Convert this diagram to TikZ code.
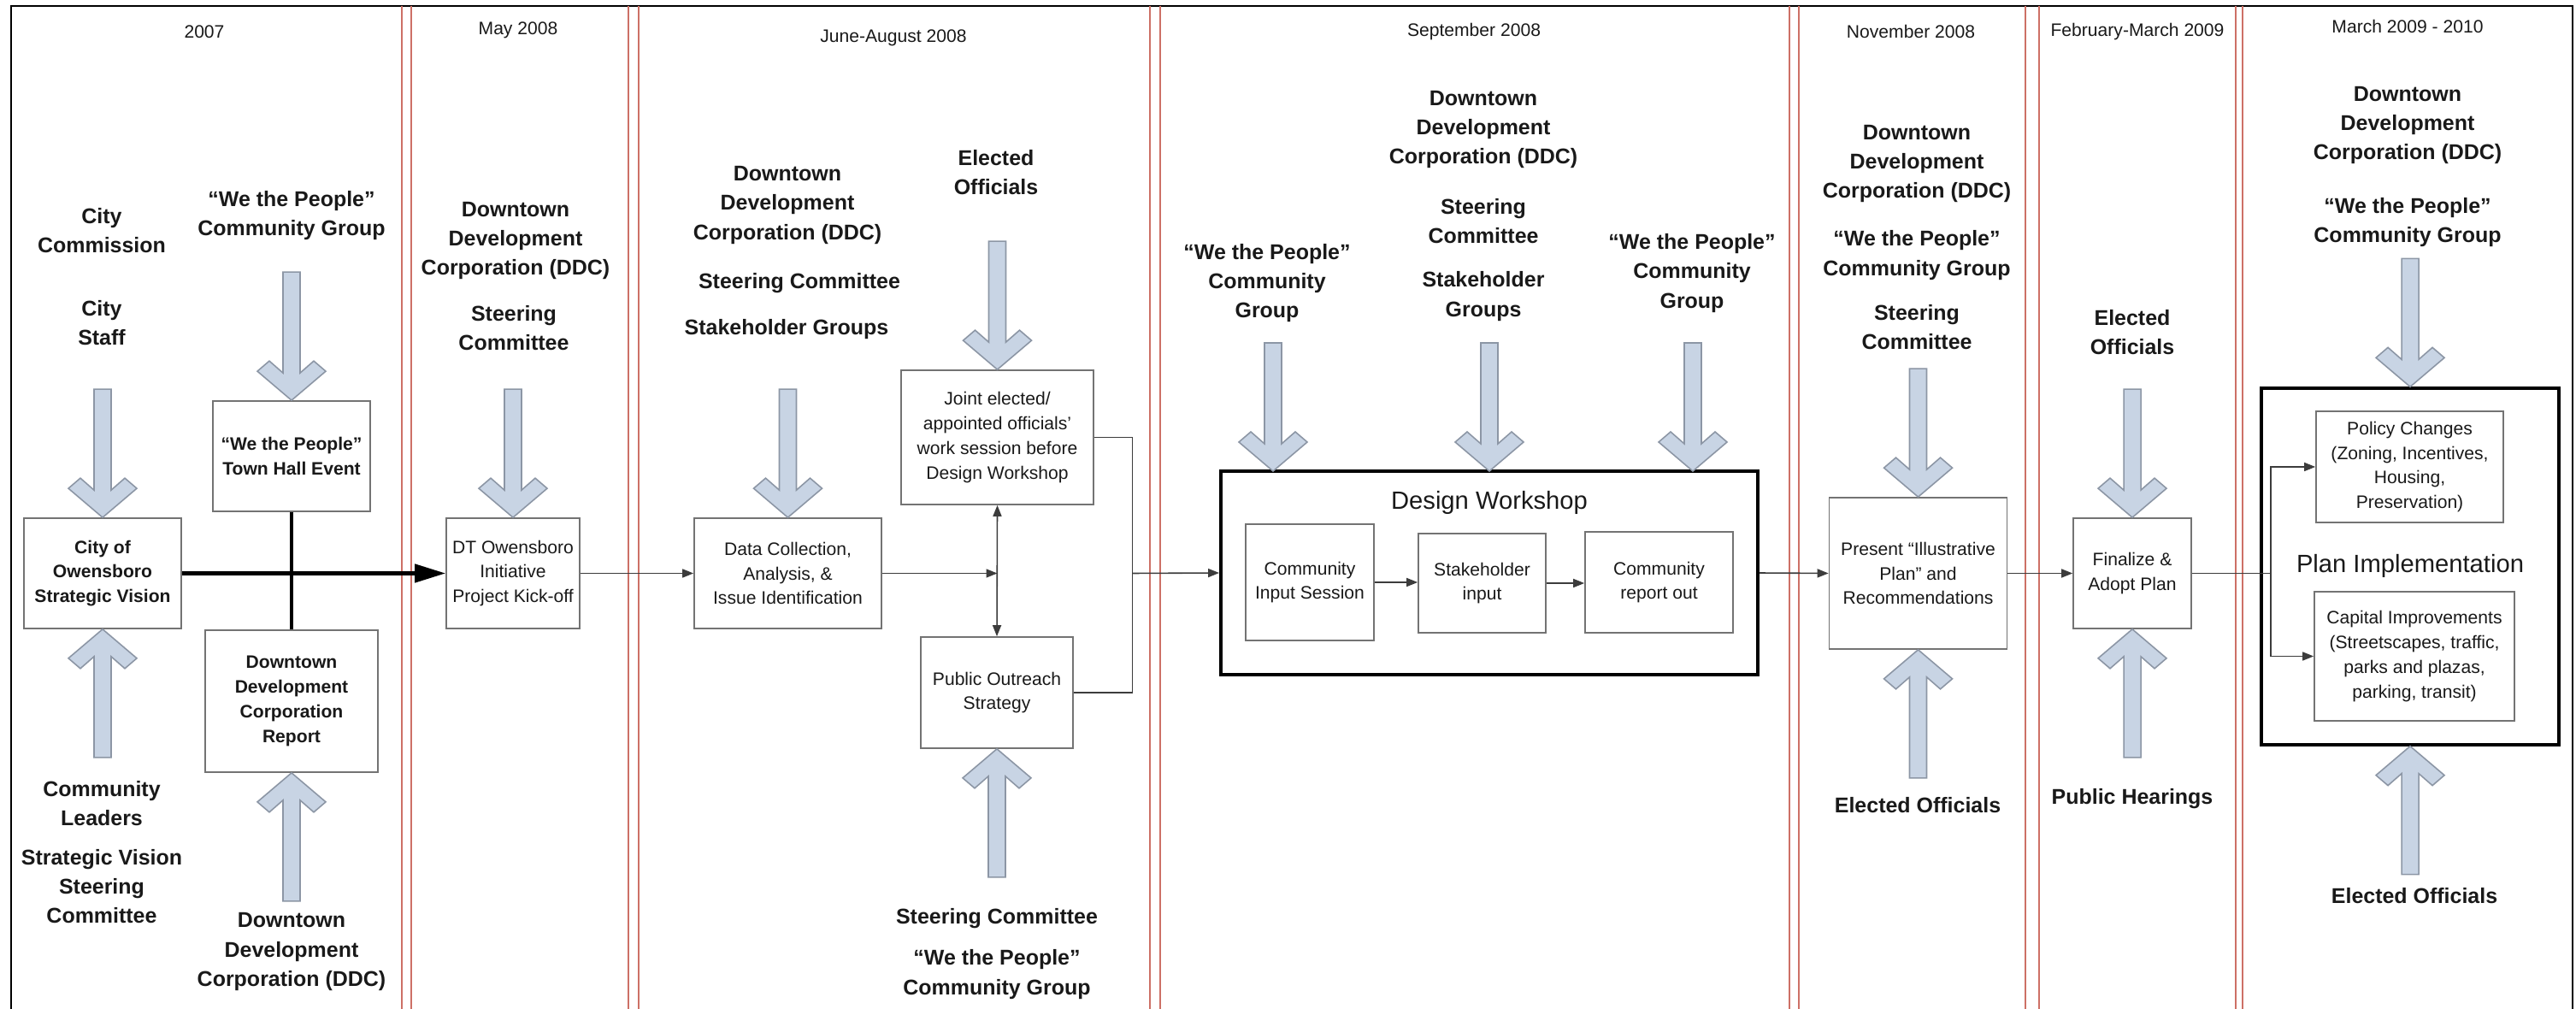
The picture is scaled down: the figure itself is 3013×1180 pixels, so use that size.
\documentclass[tikz,border=0pt]{standalone}
\usepackage{fontspec}
\setmainfont{Liberation Sans}
\usetikzlibrary{arrows.meta,positioning}
\definecolor{arrowfill}{RGB}{200,212,228}
\definecolor{arrowedge}{RGB}{140,150,165}
\definecolor{sepred}{RGB}{205,112,102}
\definecolor{boxedge}{RGB}{115,115,115}
\definecolor{ink}{RGB}{25,25,25}
\def\Wtp{“We the People”}
\def\Ddc{Downtown\\Development\\Corporation (DDC)}

% fat input arrow, tip at the origin, shaft going up
\tikzset{pics/fatarrow/.style={code={
	\draw[bigarrow] (0,0) -- (-40,-34) -- (-26,-46) -- (-10,-32) -- (-10,-150)
		-- (10,-150) -- (10,-32) -- (26,-46) -- (40,-34) -- cycle;
}}}

\begin{document}
\begin{tikzpicture}[% one unit is one pixel of the timeline, y runs down
			x=0.01cm,y=-0.01cm,
			every node/.style={
				align=center,		% so that "\\" breaks the line
				inner sep=0pt,
				text=ink
			},
			lbl/.style={font=\fontsize{7.1pt}{9.7pt}\selectfont\bfseries},
			date/.style={font=\fontsize{6pt}{7pt}\selectfont},
			title/.style={font=\fontsize{8.3pt}{10pt}\selectfont},
			stepbox/.style={draw=boxedge,line width=0.45pt,fill=white,font=\fontsize{6pt}{8.2pt}\selectfont},
			boldbox/.style={stepbox,font=\fontsize{6pt}{8.2pt}\selectfont\bfseries},
			groupbox/.style={draw=black,line width=1pt},
			bigarrow/.style={draw=arrowedge,fill=arrowfill,line width=0.45pt},
			sepline/.style={draw=sepred,line width=0.5pt},
			conn/.style={draw=ink!85,line width=0.45pt},
			flow/.style={conn,-{Triangle[length=0.13cm,width=0.1cm]}},
			boldflow/.style={draw=black,line width=1.3pt}
		]
		\useasboundingbox (0,0) rectangle (3013,1180);

		% frame and column separators
		\draw[line width=0.55pt] (13,1180) -- (13,7) -- (3009,7) -- (3009,1180);
		\foreach \a/\b in {470/481,735/747,1345/1357,2093/2104,2369/2385,2615/2623}{
			\draw[sepline] (\a,7) -- (\a,1180);
			\draw[sepline] (\b,7) -- (\b,1180);
		}

		% 2007
		\node[date](d2007) at (239,37){2007};
		\node[lbl](citycomm) at (119,270){City\\Commission};
		\node[lbl](citystaff) at (119,378){City\\Staff};
		\node[lbl](wtp1) at (341,252){\Wtp\\Community Group};
		\node[boldbox,minimum width=1.84cm,minimum height=1.29cm](cityvis) at (120,670.5){City of\\Owensboro\\Strategic Vision};
		\node[boldbox,minimum width=1.84cm,minimum height=1.29cm](townhall) at (341,533.5){\Wtp\\Town Hall Event};
		\node[boldbox,minimum width=2.02cm,minimum height=1.66cm](ddcrep) at (341,820){Downtown\\Development\\Corporation\\Report};
		\node[lbl](commlead) at (119,940){Community\\Leaders};
		\node[lbl](svsc) at (119,1036.5){Strategic Vision\\Steering\\Committee};
		\node[lbl](ddc1) at (341,1113){\Ddc};

		% May 2008
		\node[date](dmay) at (606,35){May 2008};
		\node[lbl](ddc2) at (603,281.5){\Ddc};
		\node[lbl](sc2) at (601,383.5){Steering\\Committee};
		\node[stepbox,minimum width=1.56cm,minimum height=1.29cm](kickoff) at (600,670.5){DT Owensboro\\Initiative\\Project Kick-off};

		% June-August 2008
		\node[date](djun) at (1045,44){June-August 2008};
		\node[lbl](ddc3) at (921,240){\Ddc};
		\node[lbl](sc3) at (935,331){Steering Committee};
		\node[lbl](stake3) at (920,385){Stakeholder Groups};
		\node[lbl](elect3) at (1165,202){Elected\\Officials};
		\node[stepbox,minimum width=2.19cm,minimum height=1.29cm](datacol) at (921.5,670.5){Data Collection,\\Analysis, \&\\Issue Identification};
		\node[stepbox,minimum width=2.25cm,minimum height=1.57cm](joint) at (1166.5,511.5){Joint elected/\\appointed officials’\\work session before\\Design Workshop};
		\node[stepbox,minimum width=1.78cm,minimum height=1.30cm](outreach) at (1166,810){Public Outreach\\Strategy};
		\node[lbl](sc3b) at (1166,1074){Steering Committee};
		\node[lbl](wtp3) at (1166,1139.5){\Wtp\\Community Group};

		% September 2008
		\node[date](dsep) at (1724,37){September 2008};
		\node[lbl](wtp4a) at (1482,331){\Wtp\\Community\\Group};
		\node[lbl](ddc4) at (1735,151.5){\Ddc};
		\node[lbl](sc4) at (1735,259){Steering\\Committee};
		\node[lbl](stake4) at (1735,346.5){Stakeholder\\Groups};
		\node[lbl](wtp4b) at (1979,319.5){\Wtp\\Community\\Group};
		\node[groupbox,minimum width=6.28cm,minimum height=2.38cm](workshop) at (1742,670){};
		\node[title](dwtitle) at (1742,588){Design Workshop};
		\node[stepbox,minimum width=1.50cm,minimum height=1.36cm](cis) at (1532,681){Community\\Input Session};
		\node[stepbox,minimum width=1.49cm,minimum height=1.16cm](stk) at (1733.5,682){Stakeholder\\input};
		\node[stepbox,minimum width=1.73cm,minimum height=1.18cm](rep) at (1940.5,681){Community\\report out};

		% November 2008
		\node[date](dnov) at (2235,37){November 2008};
		\node[lbl](ddc5) at (2242,191.5){\Ddc};
		\node[lbl](wtp5) at (2242,298.5){\Wtp\\Community Group};
		\node[lbl](sc5) at (2242,382.5){Steering\\Committee};
		\node[stepbox,minimum width=2.08cm,minimum height=1.77cm](present) at (2243.5,670.5){Present “Illustrative\\Plan” and\\Recommendations};
		\node[lbl](elect5) at (2243,942){Elected Officials};

		% February-March 2009
		\node[date](dfeb) at (2500,37){February-March 2009};
		\node[lbl](elect6) at (2494,388.5){Elected\\Officials};
		\node[stepbox,minimum width=1.38cm,minimum height=1.29cm](finalize) at (2494,670.5){Finalize \&\\Adopt Plan};
		\node[lbl](hear6) at (2494,934){Public Hearings};

		% March 2009 - 2010
		\node[date](dmar) at (2816,31){March 2009 - 2010};
		\node[lbl](ddc7) at (2816,146.5){\Ddc};
		\node[lbl](wtp7) at (2816,260){\Wtp\\Community Group};
		\node[groupbox,minimum width=3.48cm,minimum height=4.165cm](implement) at (2819,662.5){};
		\node[stepbox,minimum width=2.19cm,minimum height=1.295cm](policy) at (2818.5,546){Policy Changes\\(Zoning, Incentives,\\Housing,\\Preservation)};
		\node[title](pltitle) at (2819,662){Plan Implementation};
		\node[stepbox,minimum width=2.34cm,minimum height=1.51cm](capital) at (2824,767.5){Capital Improvements\\(Streetscapes, traffic,\\parks and plazas,\\parking, transit)};
		\node[lbl](elect7) at (2824,1048){Elected Officials};

		% input arrows
		\foreach \n in {cityvis,townhall,kickoff,datacol,joint,present,finalize,implement}
			\pic at (\n.north){fatarrow};
		\foreach \x in {1489,1742,1980}
			\pic at (\x,551){fatarrow};
		\foreach \n in {cityvis,ddcrep,outreach,present,finalize,implement}
			\pic[rotate=180] at (\n.south){fatarrow};

		% flow between the steps
		\coordinate (hub) at (1166.5,670.5);
		\coordinate (bus) at (1324.5,670.5);
		\coordinate (split) at (2656,670.5);
		\draw[boldflow,-{Triangle[length=0.36cm,width=0.21cm]}] (cityvis.east) -- (kickoff.west);
		\draw[boldflow] (townhall.south) -- (ddcrep.north);
		\draw[flow] (kickoff.east) -- (datacol.west);
		\draw[flow] (datacol.east) -- (hub);
		\draw[conn,{Triangle[length=0.13cm,width=0.1cm]}-{Triangle[length=0.13cm,width=0.1cm]}] (joint.south) -- (outreach.north);
		\draw[conn] (joint.east) -| (bus) |- (outreach.east);
		\draw[flow] (bus) -- (workshop.west);
		\draw[flow] (cis.east) -- (cis.east -| stk.west);
		\draw[flow] (stk.east) -- (stk.east -| rep.west);
		\draw[flow] (workshop.east) -- (present.west);
		\draw[flow] (present.east) -- (finalize.west);
		\draw[conn] (finalize.east) -- (split);
		\draw[flow] (split) |- (policy.west);
		\draw[flow] (split) |- (capital.west);
	\end{tikzpicture}
\end{document}
